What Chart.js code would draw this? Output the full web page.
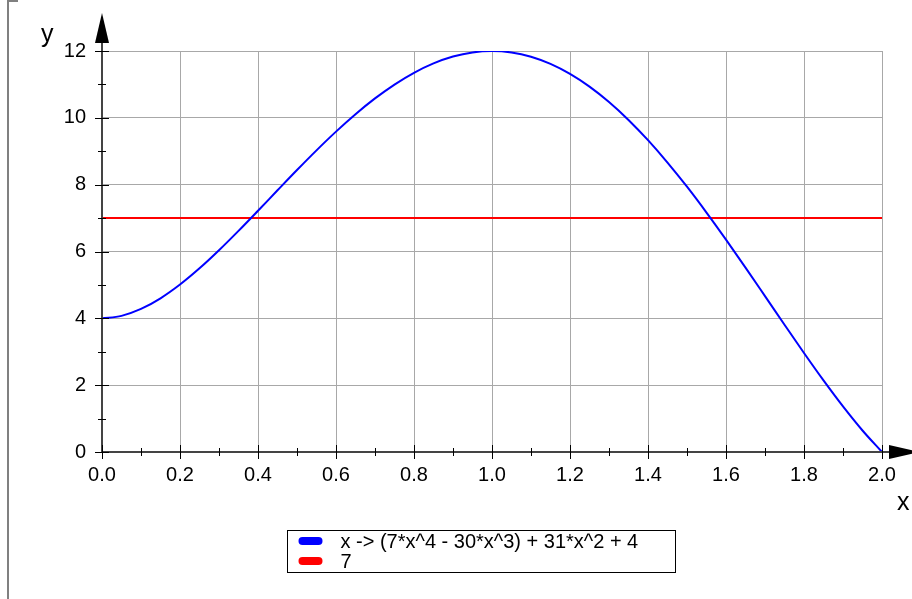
<!DOCTYPE html>
<html>
<head>
<meta charset="utf-8">
<script src="https://cdn.jsdelivr.net/npm/chart.js@4.4.0/dist/chart.umd.min.js"></script>
<style>
  html, body { margin: 0; padding: 0; background: #fff; }
</style>
</head>
<body>
<canvas id="plot" width="912" height="599"></canvas>
<script>
const xValues = [0, 0.05, 0.1, 0.15, 0.2, 0.25, 0.3, 0.35, 0.4, 0.45, 0.5, 0.55, 0.6, 0.65, 0.7, 0.75, 0.8, 0.85, 0.9, 0.95,
  1, 1.05, 1.1, 1.15, 1.2, 1.25, 1.3, 1.35, 1.4, 1.45, 1.5, 1.55, 1.6, 1.65, 1.7, 1.75, 1.8, 1.85, 1.9, 1.95, 2];
const curveValues = [4, 4.074, 4.281, 4.600, 5.011, 5.496, 6.037, 6.616, 7.219, 7.831, 8.438, 9.027, 9.587, 10.108, 10.581, 10.996, 11.347, 11.628, 11.833, 11.958,
  12, 11.957, 11.829, 11.614, 11.315, 10.934, 10.473, 9.937, 9.331, 8.662, 7.938, 7.165, 6.355, 5.518, 4.665, 3.809, 2.963, 2.143, 1.365, 0.644, 0];
const lineX = [0, 2];
const lineValues = [7, 7];
const curveLabel = 'x -> (7*x^4 - 30*x^3) + 31*x^2 + 4';
const lineLabel = '7';
const xTicks = [0, 0.2, 0.4, 0.6, 0.8, 1.0, 1.2, 1.4, 1.6, 1.8, 2.0];
const xMinor = [0.1, 0.3, 0.5, 0.7, 0.9, 1.1, 1.3, 1.5, 1.7, 1.9];
const yTicks = [0, 2, 4, 6, 8, 10, 12];
const yMinor = [1, 3, 5, 7, 9, 11];

const FONT = '"Liberation Sans", Arial, Helvetica, sans-serif';

// axes decorations: ticks crossing the axes, arrows, axis names, frame line, legend
const decorations = {
  id: 'decorations',
  afterDatasetsDraw(chart) {
    const ctx = chart.ctx;
    const xs = chart.scales.x, ys = chart.scales.y;
    const x0 = Math.round(xs.getPixelForValue(0));
    const y0 = Math.round(ys.getPixelForValue(0));
    ctx.save();

    // axis lines
    ctx.strokeStyle = '#444';
    ctx.lineWidth = 2;
    ctx.beginPath();
    ctx.moveTo(xs.left, y0); ctx.lineTo(xs.right + 8, y0);
    ctx.moveTo(x0, ys.bottom); ctx.lineTo(x0, ys.top - 8);
    ctx.stroke();

    ctx.strokeStyle = '#000';
    ctx.lineWidth = 1;
    ctx.beginPath();
    xTicks.forEach(v => { const p = Math.round(xs.getPixelForValue(v)) + 0.5; ctx.moveTo(p, y0 - 7); ctx.lineTo(p, y0 + 7); });
    xMinor.forEach(v => { const p = Math.round(xs.getPixelForValue(v)) + 0.5; ctx.moveTo(p, y0 - 4); ctx.lineTo(p, y0 + 4); });
    yTicks.forEach(v => { const p = Math.round(ys.getPixelForValue(v)) + 0.5; ctx.moveTo(x0 - 7, p); ctx.lineTo(x0 + 7, p); });
    yMinor.forEach(v => { const p = Math.round(ys.getPixelForValue(v)) + 0.5; ctx.moveTo(x0 - 4, p); ctx.lineTo(x0 + 4, p); });
    ctx.stroke();

    // arrows
    ctx.fillStyle = '#000';
    ctx.beginPath();
    ctx.moveTo(x0, ys.top - 38);
    ctx.lineTo(x0 - 7, ys.top - 8);
    ctx.lineTo(x0 + 7, ys.top - 8);
    ctx.closePath();
    ctx.fill();
    ctx.beginPath();
    ctx.moveTo(xs.right + 37, y0);
    ctx.lineTo(xs.right + 7, y0 - 7);
    ctx.lineTo(xs.right + 7, y0 + 7);
    ctx.closePath();
    ctx.fill();

    // axis names
    ctx.font = '25px ' + FONT;
    ctx.textBaseline = 'alphabetic';
    ctx.textAlign = 'left';
    ctx.fillText('y', x0 - 61, ys.top - 9);
    ctx.fillText('x', xs.right + 15, y0 + 58);

    // frame line on the left
    ctx.strokeStyle = '#808080';
    ctx.lineWidth = 2;
    ctx.beginPath();
    ctx.moveTo(18, 1);
    ctx.lineTo(8, 1);
    ctx.lineTo(8, chart.height);
    ctx.stroke();

    // legend box
    const lx = 287.5, ly = 530.5, lw = 388, lh = 42;
    ctx.lineWidth = 1;
    ctx.strokeStyle = '#000';
    ctx.strokeRect(lx, ly, lw, lh);
    ctx.font = '20px ' + FONT;
    ctx.textBaseline = 'alphabetic';
    chart.data.datasets.forEach((ds, i) => {
      const cy = ly + 10.5 + i * 20;
      ctx.strokeStyle = ds.borderColor;
      ctx.lineWidth = 8;
      ctx.lineCap = 'round';
      ctx.beginPath();
      ctx.moveTo(lx + 15, cy);
      ctx.lineTo(lx + 31, cy);
      ctx.stroke();
      ctx.fillStyle = '#000';
      ctx.fillText(ds.label, lx + 53, cy + 6.5);
    });
    ctx.restore();
  }
};

new Chart(document.getElementById('plot'), {
  type: 'scatter',
  data: {
    datasets: [
      {
        label: curveLabel,
        data: xValues.map((x, i) => ({ x: x, y: curveValues[i] })),
        showLine: true,
        borderColor: '#0000ff',
        borderWidth: 2,
        pointRadius: 0,
        cubicInterpolationMode: 'monotone'
      },
      {
        label: lineLabel,
        data: lineX.map((x, i) => ({ x: x, y: lineValues[i] })),
        showLine: true,
        borderColor: '#ff0000',
        borderWidth: 2,
        pointRadius: 0
      }
    ]
  },
  options: {
    responsive: false,
    animation: false,
    devicePixelRatio: 1,
    layout: { padding: { left: 0, top: 51, right: 30, bottom: 0 } },
    plugins: { legend: { display: false }, tooltip: { enabled: false } },
    scales: {
      x: {
        type: 'linear',
        min: 0,
        max: 2,
        afterBuildTicks: s => { s.ticks = xTicks.map(v => ({ value: v })); },
        afterFit: s => { s.height = 147; },
        grid: { color: '#a8a8a8', lineWidth: 1, drawTicks: false },
        border: { display: false },
        ticks: {
          padding: 11,
          color: '#000',
          font: { family: FONT, size: 20 },
          maxRotation: 0,
          callback: v => v.toFixed(1)
        }
      },
      y: {
        type: 'linear',
        min: 0,
        max: 12,
        afterBuildTicks: s => { s.ticks = yTicks.map(v => ({ value: v })); },
        afterFit: s => { s.width = 102; },
        grid: { color: '#a8a8a8', lineWidth: 1, drawTicks: false },
        border: { display: false },
        ticks: {
          padding: 16,
          color: '#000',
          font: { family: FONT, size: 20 },
          callback: v => String(v)
        }
      }
    }
  },
  plugins: [decorations]
});
</script>
</body>
</html>
